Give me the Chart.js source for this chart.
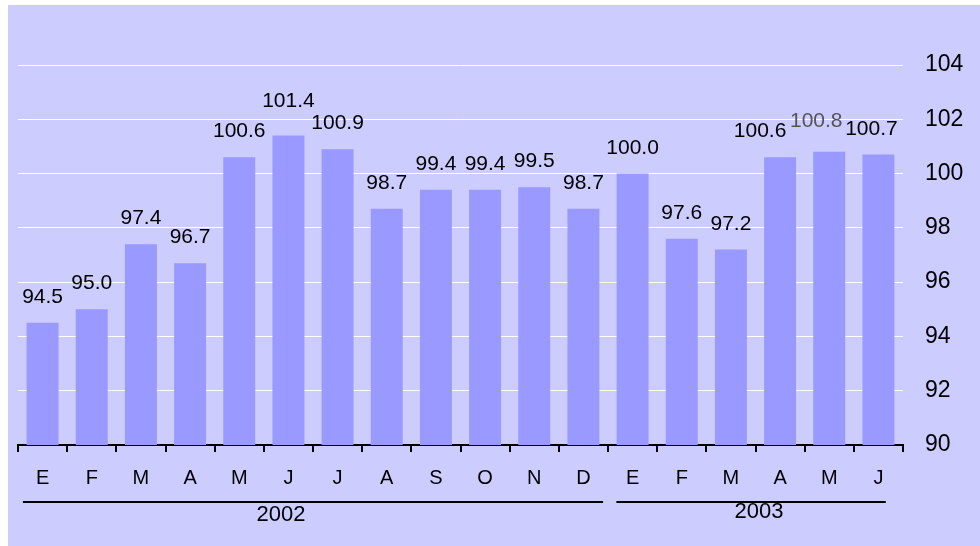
<!DOCTYPE html>
<html>
<head>
<meta charset="utf-8">
<script src="https://cdn.jsdelivr.net/npm/chart.js@4"></script>
<style>
  html, body { margin: 0; padding: 0; background: #fff; }
  #wrap { position: absolute; left: 0; top: 0; width: 980px; height: 546px; }
</style>
</head>
<body>
<div id="wrap"><canvas id="chart" width="980" height="546"></canvas></div>
<script>
// chart data
const months = ['E', 'F', 'M', 'A', 'M', 'J', 'J', 'A', 'S', 'O', 'N', 'D', 'E', 'F', 'M', 'A', 'M', 'J'];
const indexValues = [94.5, 95.0, 97.4, 96.7, 100.6, 101.4, 100.9, 98.7, 99.4, 99.4, 99.5, 98.7, 100.0, 97.6, 97.2, 100.6, 100.8, 100.7];
const yearLabels = ['2002', '2003'];
const yearFirstMonth = [0, 12];
const yearLastMonth = [11, 17];
const yTicks = [90, 92, 94, 96, 98, 100, 102, 104];

const FONT = 'Arial, "Liberation Sans", sans-serif';

// purple panel behind everything
const panelBg = {
    id: 'panelBg',
    beforeDraw(chart) {
        const ctx = chart.ctx;
        ctx.save();
        ctx.fillStyle = '#fff';
        ctx.fillRect(0, 0, chart.width, chart.height);
        ctx.fillStyle = '#CCCCFF';
        ctx.fillRect(8, 5, chart.width - 8, chart.height - 5);
        ctx.restore();
    }
};

// value labels above the bars (a few nudged like in the original)
const labelNudge = { 5: [0, -9], 15: [-20, 0], 16: [-13, -5], 17: [-7, 0] };
const barValues = {
    id: 'barValues',
    afterDatasetsDraw(chart) {
        const ctx = chart.ctx;
        const meta = chart.getDatasetMeta(0);
        ctx.save();
        ctx.font = '21px ' + FONT;
        ctx.textAlign = 'center';
        ctx.textBaseline = 'alphabetic';
        meta.data.forEach((bar, i) => {
            const n = labelNudge[i] || [0, 0];
            ctx.fillStyle = i === 16 ? '#555555' : '#000';
            ctx.fillText(indexValues[i].toFixed(1), bar.x + n[0], bar.y - 20 + n[1]);
        });
        ctx.restore();
    }
};

// year lines and labels under the month axis
const yearGroups = {
    id: 'yearGroups',
    afterDraw(chart) {
        const ctx = chart.ctx;
        const x = chart.scales.x;
        const w = x.width / months.length;
        const textShift = [-32, 8];
        ctx.save();
        ctx.strokeStyle = '#000';
        ctx.lineWidth = 2;
        ctx.fillStyle = '#000';
        ctx.font = '22px ' + FONT;
        ctx.textAlign = 'center';
        ctx.textBaseline = 'middle';
        yearLabels.forEach((label, i) => {
            const x1 = x.getPixelForTick(yearFirstMonth[i]) - (i === 1 ? 0.33 : 0.4) * w;
            const x2 = x.getPixelForTick(yearLastMonth[i]) + (i === 1 ? 0.15 : 0.4) * w;
            ctx.beginPath();
            ctx.moveTo(x1, 502);
            ctx.lineTo(x2, 502);
            ctx.stroke();
            ctx.fillText(label, (x1 + x2) / 2 + textShift[i], i === 0 ? 515 : 512);
        });
        ctx.restore();
    }
};

const ctx = document.getElementById('chart').getContext('2d');
new Chart(ctx, {
    type: 'bar',
    data: {
        labels: months,
        datasets: [{
            data: indexValues,
            backgroundColor: '#9999FF',
            borderWidth: 0,
            barPercentage: 0.65,
            categoryPercentage: 1
        }]
    },
    options: {
        responsive: false,
        animation: false,
        events: [],
        layout: { padding: { top: 65, left: 18, right: 0, bottom: 0 } },
        plugins: { legend: { display: false }, tooltip: { enabled: false } },
        scales: {
            x: {
                afterFit: (scale) => { scale.height = 101; },
                border: { display: true, color: '#000', width: 2 },
                grid: {
                    offset: true,
                    drawOnChartArea: false,
                    drawTicks: true,
                    tickLength: 7,
                    color: '#000',
                    lineWidth: 2
                },
                ticks: {
                    color: '#000',
                    font: { family: FONT, size: 20 },
                    padding: 14,
                    maxRotation: 0,
                    autoSkip: false
                }
            },
            y: {
                position: 'right',
                min: 90,
                max: 104,
                afterFit: (scale) => { scale.width = 77; },
                afterBuildTicks: (scale) => { scale.ticks = yTicks.map(v => ({ value: v })); },
                border: { display: false },
                grid: {
                    drawTicks: false,
                    color: (c) => (c.tick && c.tick.value === 90) ? 'rgba(0,0,0,0)' : '#FFFFFF',
                    lineWidth: 1
                },
                ticks: {
                    color: '#000',
                    font: { family: FONT, size: 23 },
                    padding: 22
                }
            }
        }
    },
    plugins: [panelBg, barValues, yearGroups]
});
</script>
</body>
</html>
